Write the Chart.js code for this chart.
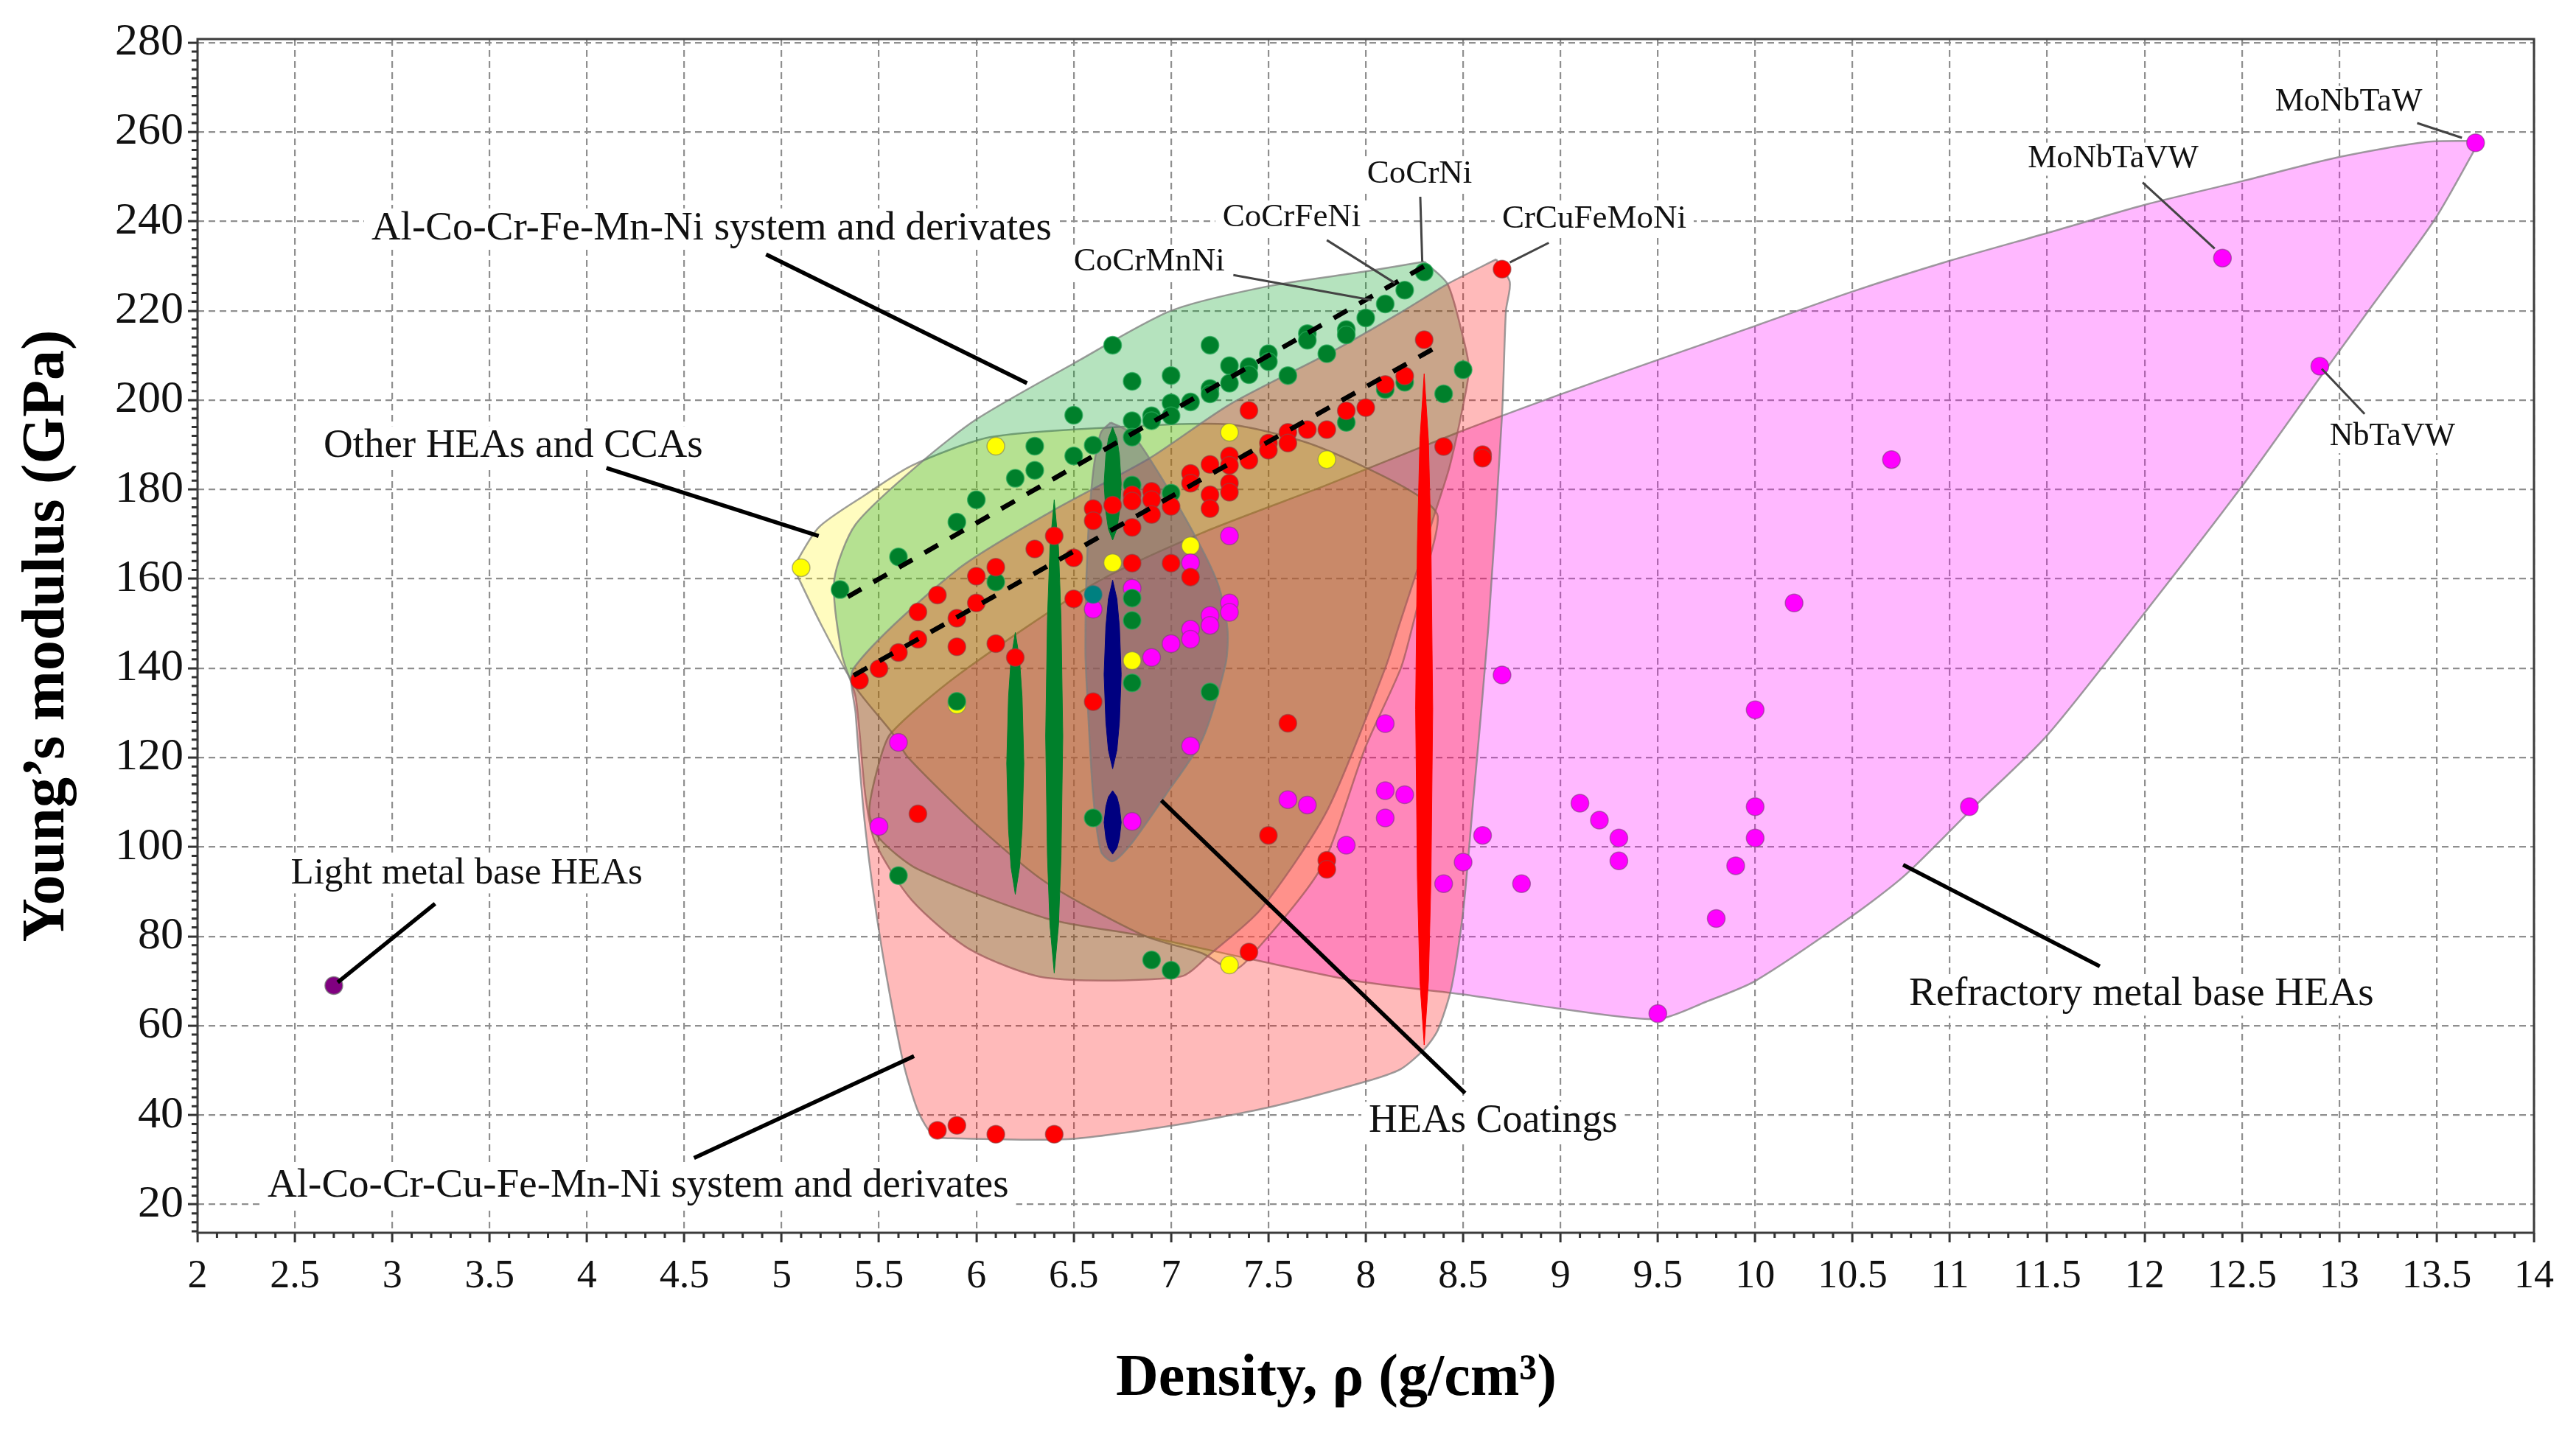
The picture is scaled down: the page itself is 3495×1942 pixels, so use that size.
<!DOCTYPE html>
<html><head><meta charset="utf-8">
<style>html,body{margin:0;padding:0;background:#fff}canvas{display:block}</style>
<script src="https://cdn.jsdelivr.net/npm/chart.js@4/dist/chart.umd.js"></script>
</head><body><canvas id="c" width="3495" height="1942"></canvas>
<script>
const xTickValues=[2,2.5,3,3.5,4,4.5,5,5.5,6,6.5,7,7.5,8,8.5,9,9.5,10,10.5,11,11.5,12,12.5,13,13.5,14];
const yTickValues=[20,40,60,80,100,120,140,160,180,200,220,240,260,280];
const xTitle='Density, ρ (g/cm³)\u00A0\u00A0\u00A0\u00A0';
const yTitle='Young’s modulus (GPa)';

// Region outlines [density, modulus]
const refractoryRegion=[[13.72,258],[13.49,240.4],[13.15,220],[12.9,205],[12.5,180.7],[12,152.4],[11.5,125],[11.12,108.8],[10.77,93.7],[10.5,84.6],[10,70],[9.75,65.4],[9.5,61.5],[9,63.8],[8.5,67],[7.95,70],[7.43,74.7],[6.87,80],[6.36,84],[5.7,95],[5.5,102],[5.45,108],[5.5,118.8],[5.56,125.4],[5.9,138.3],[6.6,158.8],[7.16,170.3],[7.8,181],[8.47,192.7],[9,201.3],[9.5,209],[10,216.6],[10.5,224.3],[11,231.2],[11.5,237.4],[12,243.7],[12.5,249],[13,254.4],[13.45,257.8],[13.72,258]];
const otherRegion=[[5.06,162.6],[5.19,171.5],[5.43,178.8],[5.67,185.4],[6.07,191.7],[6.69,193.9],[7.29,194.6],[7.69,190.6],[8.01,184.7],[8.27,178.6],[8.37,174],[8.3,160],[8.24,149.4],[8.18,140],[8,122.5],[7.77,95.3],[7.42,76],[7.32,72.5],[7.16,76.2],[6.87,80],[6.36,92],[6,105],[5.65,120],[5.57,125.4],[5.38,135.7],[5.2,150],[5.06,162.6]];
const alCoCrFeRegion=[[8.3,231],[8.42,226],[8.5,214],[8.53,207],[8.5,198.8],[8.43,185],[8.35,174],[8.26,161.4],[8.17,149.4],[8.1,140],[7.8,108],[7.46,86],[7.2,76],[7.05,71],[6.36,70.7],[5.97,77],[5.67,88],[5.48,101],[5.43,111.5],[5.38,133.5],[5.31,143],[5.27,159.7],[5.38,172.2],[5.72,186.2],[6,195.7],[6.5,208.2],[7,220],[7.5,225.5],[8,228.8],[8.3,231]];
const alCoCrCuRegion=[[8.67,231.5],[8.74,226.4],[8.72,220],[8.7,196.7],[8.63,149.4],[8.55,109.5],[8.5,85.5],[8.44,68.5],[8.37,59],[8.3,54.7],[8.18,50.3],[8,47.5],[7.49,41.6],[7,37.6],[6.47,34.6],[5.88,34.8],[5.78,35.4],[5.7,40.9],[5.62,52.6],[5.51,78.4],[5.43,104.1],[5.38,129.9],[5.37,140],[5.9,162],[6.39,175.2],[6.89,187],[7.3,199],[7.85,211.4],[8.19,219.9],[8.42,226],[8.67,231.5]];
const coatingRegion=[[6.69,195],[6.64,192.8],[6.6,184],[6.57,166],[6.56,144],[6.57,133.5],[6.6,111.5],[6.64,99],[6.7,96.8],[6.79,100.4],[6.97,111.5],[7.16,124],[7.28,140.9],[7.29,148.7],[7.24,159],[7.1,171.5],[6.89,186.9],[6.79,192.8],[6.69,195]];

// Thin vertical coating marks
const green62=[[6.2,148],[6.222,142],[6.235,133.5],[6.244,118.7],[6.235,104],[6.222,95.5],[6.2,89.4],[6.178,95.5],[6.165,104],[6.156,118.7],[6.165,133.5],[6.178,142],[6.2,148]];
const green64=[[6.4,177.7],[6.422,167],[6.435,151],[6.444,124.8],[6.435,98],[6.422,82.5],[6.4,71.8],[6.378,82.5],[6.365,98],[6.356,124.8],[6.365,151],[6.378,167],[6.4,177.7]];
const green67=[[6.7,193.9],[6.722,191.4],[6.735,187.6],[6.744,181.3],[6.735,175],[6.722,171.2],[6.7,168.7],[6.678,171.2],[6.665,175],[6.656,181.3],[6.665,187.6],[6.678,191.4],[6.7,193.9]];
const navy67a=[[6.7,159.7],[6.722,155.5],[6.735,149.2],[6.744,138.6],[6.735,128],[6.722,121.7],[6.7,117.5],[6.678,121.7],[6.665,128],[6.656,138.6],[6.665,149.2],[6.678,155.5],[6.7,159.7]];
const navy67b=[[6.7,112.6],[6.722,111.2],[6.735,109],[6.744,105.5],[6.735,102],[6.722,99.8],[6.7,98.4],[6.678,99.8],[6.665,102],[6.656,105.5],[6.665,109],[6.678,111.2],[6.7,112.6]];
const red83=[[8.3,205.9],[8.322,191],[8.335,168],[8.344,130.8],[8.335,93],[8.322,70],[8.3,55.7],[8.278,70],[8.265,93],[8.256,130.8],[8.265,168],[8.278,191],[8.3,205.9]];

// Alloy points
const yellowPoints=[[6.1,189.7],[5.1,162.5],[7.3,192.8],[7.8,186.7],[6.7,163.6],[7.1,167.4],[6.8,141.7],[5.9,131.8],[7.3,73.6]];
const magentaPoints=[[7.3,169.6],[7.1,163.6],[6.8,157.9],[6.6,153.2],[7.3,154.6],[7.3,152.5],[7.2,151.8],[7.2,149.6],[7.1,148.7],[7.1,146.5],[7,145.5],[6.9,142.4],[7.1,122.6],[5.6,123.4],[5.5,104.6],[6.8,105.7],[8.1,127.6],[8.1,112.6],[8.2,111.7],[8.1,106.5],[7.6,110.6],[7.7,109.4],[7.9,100.4],[8.6,102.6],[8.5,96.6],[8.4,91.8],[8.8,91.8],[8.7,138.5],[9.1,109.8],[9.2,106],[9.3,102],[9.3,96.9],[9.5,62.7],[9.8,84],[9.9,95.8],[10,130.7],[10,109],[10,102],[10.2,154.6],[10.7,186.7],[11.1,109],[12.4,231.8],[12.9,207.6],[13.7,257.6]];
const tealPoints=[[6.6,156.5]];
const purplePoints=[[2.7,69]];
const greenPoints=[[8.3,228.7],[8.2,224.6],[8.1,221.5],[8,218.4],[7.9,215.8],[7.9,214.6],[7.8,210.4],[7.7,214.9],[7.7,213.4],[7.6,205.5],[7.5,210.4],[7.5,208.6],[7.4,207.5],[7.4,205.7],[7.3,207.7],[7.3,203.8],[7.2,212.3],[7.2,202.6],[7.2,201.4],[7.1,199.6],[7,205.5],[7,199.4],[7,196.5],[6.9,196.5],[6.9,195.4],[6.8,204.2],[6.8,195.4],[6.8,191.7],[6.7,212.3],[6.6,189.9],[6.5,196.6],[6.5,187.5],[6.3,189.7],[6.3,184.3],[6.2,182.5],[6,177.7],[5.9,172.7],[5.6,164.9],[5.3,157.6],[8.5,206.8],[8.4,201.4],[8.2,204],[8.1,202.4],[7.9,195],[6.8,181],[7,179.2],[6.1,159.3],[5.9,132.6],[6.8,150.7],[6.8,155.7],[6.8,136.7],[7.2,134.7],[6.6,106.5],[5.6,93.6],[6.9,74.7],[7,72.4]];
const redPoints=[[8.3,213.5],[8.2,205.4],[8.1,203.5],[8,198.3],[7.9,197.6],[7.8,193.4],[7.7,193.4],[7.6,192.8],[7.6,190.4],[7.5,190.4],[7.5,188.8],[7.4,197.7],[7.4,186.5],[7.3,187.5],[7.3,185.4],[7.3,181.4],[7.3,179.4],[7.2,185.6],[7.2,178.8],[7.2,175.7],[7.1,183.6],[7.1,181.4],[7.1,160.4],[7,176.2],[7,163.5],[6.9,179.6],[6.9,177.7],[6.9,174.4],[6.8,178.8],[6.8,177.4],[6.8,171.5],[6.8,163.5],[6.7,176.5],[6.6,175.7],[6.6,173],[6.6,132.5],[6.5,164.7],[6.5,155.5],[6.4,169.6],[6.3,166.7],[6.2,142.4],[6.1,162.6],[6.1,145.5],[6,160.6],[6,154.6],[5.9,151.2],[5.9,144.8],[5.8,156.4],[5.7,152.6],[5.7,146.5],[5.6,143.5],[5.5,139.9],[5.4,137.3],[8.4,189.6],[8.6,187.8],[8.6,187],[8.7,229.3],[7.6,127.7],[5.7,107.4],[7.5,102.6],[7.8,97],[7.8,95],[7.4,76.5],[5.8,36.6],[5.9,37.7],[6.1,35.7],[6.4,35.7]];

// Trend lines and leader lines
const trendUpper=[[5.34,156],[8.33,230.7]];
const trendLower=[[5.37,138.4],[8.36,211.8]];
const thickLeaders=[
 [[4.92,232.6],[6.26,203.8]],
 [[4.1,184.8],[5.19,169.6]],
 [[3.22,87.3],[2.72,69.7]],
 [[10.76,96],[11.77,73.3]],
 [[6.95,110.4],[8.51,44.9]],
 [[5.68,53.2],[4.55,30.4]]];
const thinLeaders=[
 [[8.28,245.5],[8.29,231]],
 [[7.8,235.8],[8.15,226.2]],
 [[7.32,228],[8.03,222.4]],
 [[8.94,235.2],[8.74,230.8]],
 [[13.4,262],[13.63,258.7]],
 [[11.99,248.7],[12.36,233.9]],
 [[12.91,207],[13.13,196.9]]];

// Text notes: text, density, modulus, font size
const notes=[
 ['Al-Co-Cr-Fe-Mn-Ni system and derivates',2.893,236,55],
 ['Other HEAs and CCAs',2.647,187.3,55],
 ['Light metal base HEAs',2.479,91.8,51],
 ['Al-Co-Cr-Cu-Fe-Mn-Ni system and derivates',2.36,21.7,55],
 ['HEAs Coatings',8.015,36.2,54],
 ['Refractory metal base HEAs',10.79,64.6,55],
 ['CoCrNi',8.007,248.7,45],
 ['CoCrFeNi',7.265,238.9,45],
 ['CrCuFeMoNi',8.7,238.6,45],
 ['CoCrMnNi',6.5,229,45],
 ['MoNbTaW',12.67,264.8,44],
 ['MoNbTaVW',11.4,252.1,44],
 ['NbTaVW',12.95,190,44]];

const toXY=a=>a.map(p=>({x:p[0],y:p[1]}));
const region=(label,arr,fillCol)=>({label,data:toXY(arr),showLine:true,fill:'shape',backgroundColor:fillCol,borderColor:'rgba(125,125,125,0.75)',borderWidth:2.5,pointRadius:0,tension:0.25});
const spindle=(label,arr,col)=>({label,data:toXY(arr),showLine:true,fill:'shape',backgroundColor:col,borderColor:col,borderWidth:1,pointRadius:0,tension:0});
const dots=(label,arr,col,edge)=>({label,data:toXY(arr),showLine:false,pointRadius:12,pointBackgroundColor:col,pointBorderColor:edge,pointBorderWidth:1.5,backgroundColor:col});
const seg=(label,arr,col,w,dash)=>({label,data:toXY(arr),showLine:true,fill:false,borderColor:col,borderWidth:w,borderDash:dash||[],pointRadius:0,tension:0});

// Chart.js paints the first dataset on top, so the list runs from top layer to bottom layer.
const datasets=[
 ...thickLeaders.map((a,i)=>seg('Leader '+i,a,'#000',5.5)),
 ...thinLeaders.map((a,i)=>seg('Leader thin '+i,a,'#444',3)),
 seg('Trend upper',trendUpper,'#000',6.5,[21,19]),
 seg('Trend lower',trendLower,'#000',6.5,[21,19]),
 dots('Red',redPoints,'#ff0000','rgba(140,70,70,0.6)'),
 dots('Green',greenPoints,'#00802b','rgba(40,170,90,0.7)'),
 dots('Purple',purplePoints,'#800080','rgba(120,120,120,0.8)'),
 dots('Teal',tealPoints,'#008080','rgba(60,120,120,0.6)'),
 dots('Magenta',magentaPoints,'#ff00ff','rgba(130,60,130,0.6)'),
 dots('Yellow',yellowPoints,'#ffff00','rgba(130,130,90,0.6)'),
 spindle('Coating 8.3',red83,'#ff0000'),
 spindle('Coating 6.7 navy b',navy67b,'#000080'),
 spindle('Coating 6.7 navy a',navy67a,'#000080'),
 spindle('Coating 6.7 green',green67,'#00802b'),
 spindle('Coating 6.4',green64,'#00802b'),
 spindle('Coating 6.2',green62,'#00802b'),
 region('HEAs Coatings',coatingRegion,'rgba(106,91,122,0.45)'),
 region('Al-Co-Cr-Cu-Fe-Mn-Ni system and derivates',alCoCrCuRegion,'rgba(255,0,0,0.27)'),
 region('Al-Co-Cr-Fe-Mn-Ni system and derivates',alCoCrFeRegion,'rgba(0,160,30,0.29)'),
 region('Other HEAs and CCAs',otherRegion,'rgba(255,245,0,0.25)'),
 region('Refractory metal base HEAs',refractoryRegion,'rgba(255,0,255,0.28)')
];

const serif='"Liberation Serif","Times New Roman",serif';
const setFont=(ctx,n)=>{ctx.font=n[3]+'px '+serif;};
const decor={id:'decor',
 beforeDatasetsDraw(ch){const c=ch.ctx,sx=ch.scales.x,sy=ch.scales.y;c.save();c.fillStyle='#fff';
  notes.forEach(n=>{setFont(c,n);const w=c.measureText(n[0]).width,px=sx.getPixelForValue(n[1]),py=sy.getPixelForValue(n[2]);
   c.fillRect(px-10,py-n[3]*0.76,w+20,n[3]*1.02);});c.restore();},
 afterDatasetsDraw(ch){const c=ch.ctx,sx=ch.scales.x,sy=ch.scales.y,a=ch.chartArea;c.save();
  c.fillStyle='#111';c.textAlign='left';c.textBaseline='alphabetic';
  notes.forEach(n=>{setFont(c,n);c.fillText(n[0],sx.getPixelForValue(n[1]),sy.getPixelForValue(n[2]));});
  c.strokeStyle='#3c3c3c';c.lineWidth=3;c.strokeRect(a.left,a.top,a.right-a.left,a.bottom-a.top);
  c.lineWidth=3;c.strokeStyle='#333';c.beginPath();
  for(let k=20;k<=140;k++){if(k%5===0)continue;const p=sx.getPixelForValue(k/10);c.moveTo(p,a.bottom);c.lineTo(p,a.bottom+7);}
  for(let v=14;v<=280;v+=2){if(v%20===0)continue;const p=sy.getPixelForValue(v);c.moveTo(a.left,p);c.lineTo(a.left-8,p);}
  c.stroke();c.restore();}
};

new Chart(document.getElementById('c'),{
 type:'scatter',
 data:{datasets},
 plugins:[decor],
 options:{responsive:false,animation:false,devicePixelRatio:1,events:[],
  layout:{padding:{top:53,right:57,left:0,bottom:0}},
  plugins:{legend:{display:false},tooltip:{enabled:false},title:{display:false}},
  scales:{
   x:{type:'linear',min:2,max:14,bounds:'data',
    afterBuildTicks:s=>{s.ticks=xTickValues.map(v=>({value:v}));},
    afterFit:s=>{s.height=269;},
    grid:{color:'#8f8f8f',lineWidth:2.2,tickLength:13,tickColor:'#333',tickWidth:3},
    border:{display:false,dash:[9,6]},
    ticks:{autoSkip:false,maxRotation:0,minRotation:0,padding:14,color:'#111',font:{family:serif,size:54},callback:v=>String(v)},
    title:{display:true,text:xTitle,color:'#000',font:{family:serif,size:80,weight:'bold'},padding:{top:0,bottom:22}}},
   y:{type:'linear',min:13.66,max:280.8,bounds:'data',
    afterBuildTicks:s=>{s.ticks=yTickValues.map(v=>({value:v}));},
    afterFit:s=>{s.width=268;},
    grid:{color:'#8f8f8f',lineWidth:2.2,tickLength:13,tickColor:'#333',tickWidth:3},
    border:{display:false,dash:[9,6]},
    ticks:{autoSkip:false,padding:6,color:'#111',font:{family:serif,size:62},callback:v=>String(v)},
    title:{display:true,text:yTitle,color:'#000',font:{family:serif,size:82,weight:'bold'},padding:{top:16,bottom:0}}}
  }}
});
</script></body></html>
